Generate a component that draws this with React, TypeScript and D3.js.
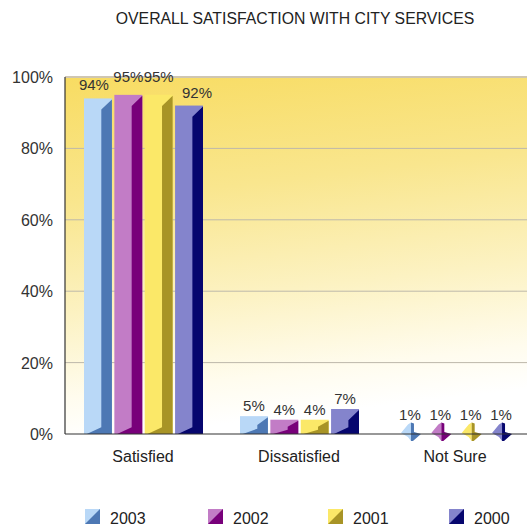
import { useEffect, useRef } from "react";
import * as d3 from "d3";

const categories = ["Satisfied", "Dissatisfied", "Not Sure"];
const years = ["2003", "2002", "2001", "2000"];
const values2003 = [94, 5, 1];
const values2002 = [95, 4, 1];
const values2001 = [95, 4, 1];
const values2000 = [92, 7, 1];
const yTicks = [0, 20, 40, 60, 80, 100];
const lightColors = ["#b9d8f7", "#c27cc6", "#fbe868", "#8484cc"];
const darkColors = ["#4d78b4", "#78007a", "#a89426", "#06066e"];

const seriesValues = [values2003, values2002, values2001, values2000];

export default function App() {
  const ref = useRef<SVGSVGElement>(null);

  useEffect(() => {
    if (!ref.current) return;
    const svg = d3.select(ref.current);
    svg.selectAll("*").remove();

    const W = 527, H = 527;
    const left = 65, right = 533, top = 77, bottom = 434;
    const font = "Arial, 'Liberation Sans', sans-serif";

    const defs = svg.append("defs");
    const bg = defs.append("linearGradient").attr("id", "bg")
      .attr("x1", 0).attr("y1", 0).attr("x2", 0.15).attr("y2", 1);
    bg.append("stop").attr("offset", "0%").attr("stop-color", "#f8dc62");
    bg.append("stop").attr("offset", "35%").attr("stop-color", "#f9e68e");
    bg.append("stop").attr("offset", "65%").attr("stop-color", "#fcf2c2");
    bg.append("stop").attr("offset", "88%").attr("stop-color", "#fffcee");
    bg.append("stop").attr("offset", "100%").attr("stop-color", "#ffffff");

    svg.append("rect").attr("width", W).attr("height", H).attr("fill", "#fff");

    const x0 = d3.scaleBand<string>().domain(categories).range([left, right]);
    const x1 = d3.scaleBand<string>().domain(years).range([19, 138]).paddingInner(0.08);
    const y = d3.scaleLinear().domain([0, 100]).range([bottom, top]);

    // plot background
    svg.append("rect").attr("x", left).attr("y", top)
      .attr("width", right - left).attr("height", bottom - top)
      .attr("fill", "url(#bg)");

    // gridlines
    svg.append("g").selectAll("line").data(yTicks.filter(t => t > 0))
      .join("line")
      .attr("x1", left).attr("x2", right)
      .attr("y1", d => y(d)).attr("y2", d => y(d))
      .attr("stroke", d => d === 100 ? "#cfc6b2" : "#bdb8aa")
      .attr("stroke-width", d => d === 100 ? 2 : 1);

    // y tick labels
    svg.append("g").selectAll("text").data(yTicks)
      .join("text")
      .attr("x", 53).attr("y", d => y(d) + 6)
      .attr("text-anchor", "end")
      .style("font", `16px ${font}`).attr("fill", "#333")
      .text(d => `${d}%`);

    // bars
    const groups = svg.append("g").selectAll("g").data(categories)
      .join("g")
      .attr("transform", c => `translate(${x0(c)},0)`);

    const pts = (arr: number[][]) => arr.map(p => p.join(",")).join(" ");

    groups.each(function (c, ci) {
      const g = d3.select(this);
      years.forEach((yr, si) => {
        const v = seriesValues[si][ci];
        const bx = x1(yr)!;
        const w = x1.bandwidth();
        const yt = y(v);
        const yb = y(0);
        const h = yb - yt;
        const sx = bx + w * 0.62;
        if (h > 10) {
          const b = Math.min(w * 0.4, h / 2);
          g.append("rect").attr("x", bx).attr("y", yt).attr("width", w).attr("height", h)
            .attr("fill", lightColors[si]);
          g.append("polygon")
            .attr("points", pts([[sx, yt + b], [bx + w, yt + 1], [bx + w, yb], [bx + w * 0.1, yb], [sx, yb - b * 0.6]]))
            .attr("fill", darkColors[si]);
        } else {
          // tiny bars rendered as a jagged 3D sliver across the axis
          const cx = bx + w / 2;
          g.append("polygon")
            .attr("points", pts([[cx - 9, yb - 1], [cx - 2, yt - 6], [cx + 1, yt - 8], [cx + 1, yb + 7], [cx - 2, yb + 3]]))
            .attr("fill", lightColors[si]);
          g.append("polygon")
            .attr("points", pts([[cx + 1, yt - 8], [cx + 4, yt - 7], [cx + 4, yb - 2], [cx + 11, yb], [cx + 3, yb + 7], [cx + 1, yb + 7]]))
            .attr("fill", darkColors[si]);
        }
        // label placement: crowded tall group pushes inner labels up, outer ones outward
        let lx = bx + w / 2;
        let ly = h > 10 ? yt - 7 : yt - 10;
        if (ci === 0) {
          if (si === 1 || si === 2) ly = yt - 13;
          if (si === 0) lx -= 4;
          if (si === 3) lx += 8;
          if (si === 0 || si === 3) ly = yt - 8;
        } else if (ci === 1) {
          ly = yt - 5;
        }
        g.append("text")
          .attr("x", lx).attr("y", ly)
          .attr("text-anchor", "middle")
          .style("font", `15px ${font}`).attr("fill", "#333")
          .text(`${v}%`);
      });
    });

    // axes lines
    svg.append("line").attr("x1", left).attr("x2", left).attr("y1", top).attr("y2", bottom)
      .attr("stroke", "#333").attr("stroke-width", 1.2);
    svg.append("line").attr("x1", left).attr("x2", right).attr("y1", bottom).attr("y2", bottom)
      .attr("stroke", "#333").attr("stroke-width", 1.2);

    // category labels
    svg.append("g").selectAll("text").data(categories)
      .join("text")
      .attr("x", c => x0(c)! + 78).attr("y", 462)
      .attr("text-anchor", "middle")
      .style("font", `16px ${font}`).attr("fill", "#222")
      .text(c => c);

    // title
    svg.append("text").attr("x", 295).attr("y", 24).attr("text-anchor", "middle")
      .style("font", `15.8px ${font}`).attr("fill", "#222")
      .text("OVERALL SATISFACTION WITH CITY SERVICES");

    // legend
    const legendX = [85, 208, 328, 449];
    const lg = svg.append("g").selectAll("g").data(years)
      .join("g")
      .attr("transform", (_, i) => `translate(${legendX[i]},509)`);
    lg.append("rect").attr("width", 15).attr("height", 15).attr("fill", (_, i) => lightColors[i]);
    lg.append("polygon").attr("points", "15,0 15,15 0,15").attr("fill", (_, i) => darkColors[i]);
    lg.append("text").attr("x", 25).attr("y", 15)
      .style("font", `16px ${font}`).attr("fill", "#222")
      .text(d => d);
  }, []);

  return (
    <div style={{ position: "fixed", left: 0, top: 0, width: 527, height: 527 }}>
      <svg ref={ref} width={527} height={527} style={{ display: "block" }} />
    </div>
  );
}
